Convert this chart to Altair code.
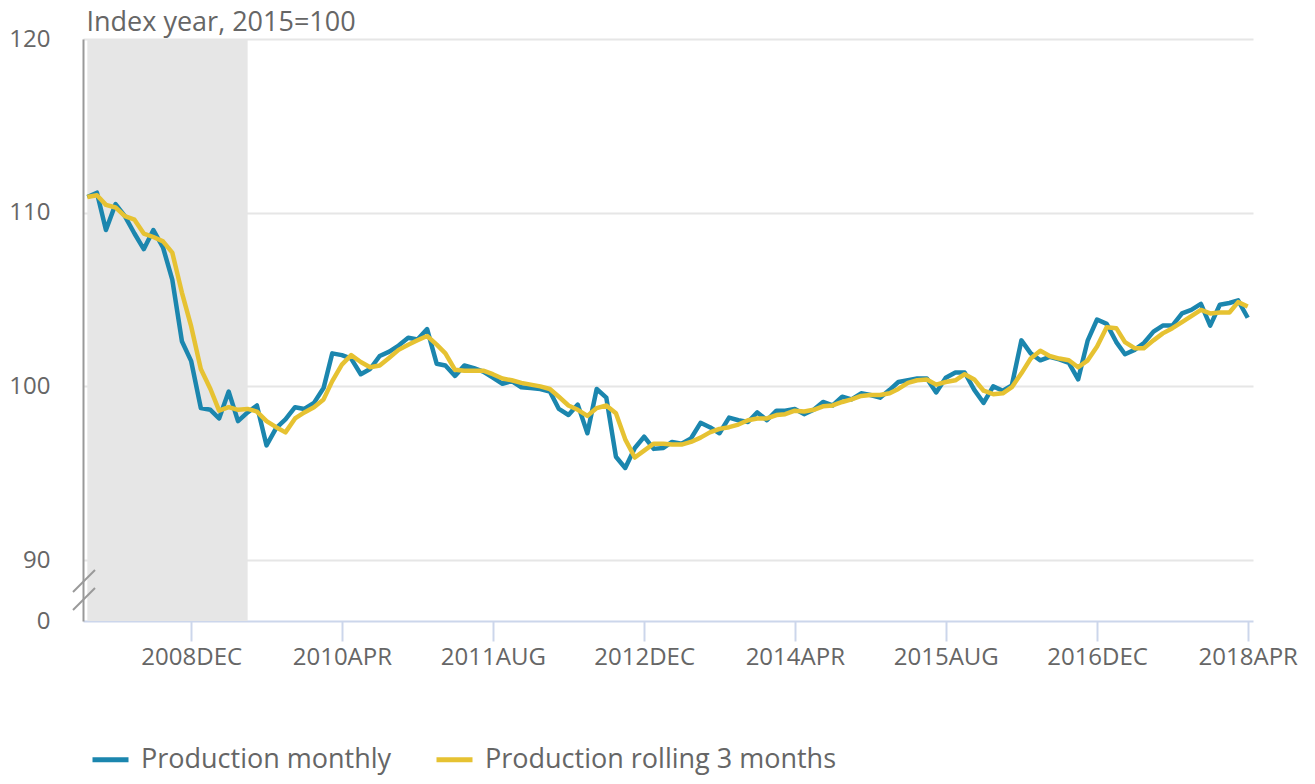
import altair as alt
import pandas as pd

# ---- data ----
months = pd.date_range("2008-01-01", "2018-04-01", freq="MS").strftime("%Y-%m-%d").tolist()

monthly = [
    110.9, 111.15, 109.0, 110.5, 109.8, 108.8, 107.9, 109.0, 108.0, 106.15, 102.6, 101.45,   # 2008
    98.75, 98.65, 98.15, 99.7, 98.0, 98.5, 98.9, 96.6, 97.6, 98.1, 98.8, 98.7,               # 2009
    99.05, 99.9, 101.9, 101.8, 101.6, 100.7, 101.0, 101.75, 102.0, 102.35, 102.8, 102.7,     # 2010
    103.3, 101.3, 101.2, 100.6, 101.2, 101.05, 100.85, 100.5, 100.15, 100.3, 99.95, 99.9,    # 2011
    99.85, 99.7, 98.7, 98.35, 98.95, 97.3, 99.85, 99.35, 95.95, 95.3, 96.45, 97.1,           # 2012
    96.4, 96.45, 96.8, 96.7, 97.0, 97.9, 97.65, 97.3, 98.2, 98.05, 97.95, 98.5,              # 2013
    98.05, 98.6, 98.6, 98.7, 98.4, 98.65, 99.1, 98.9, 99.4, 99.25, 99.6, 99.5,               # 2014
    99.35, 99.8, 100.25, 100.35, 100.45, 100.45, 99.65, 100.5, 100.8, 100.8, 99.8, 99.05,    # 2015
    100.0, 99.75, 100.05, 102.65, 101.9, 101.5, 101.7, 101.55, 101.35, 100.4, 102.65, 103.85,# 2016
    103.6, 102.55, 101.85, 102.1, 102.5, 103.15, 103.5, 103.5, 104.2, 104.4, 104.75, 103.5,  # 2017
    104.7, 104.8, 104.95, 103.95,                                                            # 2018
]

rolling = [
    110.9, 111.0, 110.45, 110.3, 109.8, 109.6, 108.8, 108.6, 108.35, 107.7, 105.4, 103.45,   # 2008
    101.0, 99.85, 98.6, 98.8, 98.65, 98.7, 98.55, 98.0, 97.65, 97.35, 98.15, 98.5,           # 2009
    98.8, 99.25, 100.3, 101.25, 101.8, 101.4, 101.1, 101.2, 101.65, 102.1, 102.4, 102.65,    # 2010
    102.9, 102.4, 101.9, 100.95, 100.9, 100.9, 100.9, 100.7, 100.45, 100.35, 100.2, 100.1,   # 2011
    100.0, 99.85, 99.4, 98.9, 98.65, 98.3, 98.75, 98.9, 98.45, 96.95, 95.9, 96.3,            # 2012
    96.7, 96.7, 96.65, 96.65, 96.8, 97.05, 97.35, 97.55, 97.65, 97.8, 98.05, 98.15,          # 2013
    98.15, 98.35, 98.4, 98.6, 98.55, 98.65, 98.85, 98.9, 99.1, 99.25, 99.45, 99.5,           # 2014
    99.5, 99.6, 99.85, 100.2, 100.35, 100.4, 100.1, 100.25, 100.35, 100.7, 100.4, 99.75,     # 2015
    99.55, 99.6, 99.95, 100.75, 101.6, 102.05, 101.75, 101.6, 101.5, 101.1, 101.5, 102.3,    # 2016
    103.4, 103.35, 102.55, 102.2, 102.2, 102.65, 103.05, 103.35, 103.7, 104.05, 104.4, 104.2,# 2017
    104.25, 104.25, 104.85, 104.6,                                                           # 2018
]

series_names = ["Production monthly", "Production rolling 3 months"]
band_start = ["2008-01-01"]
band_end = ["2009-06-01"]
y_ticks = [86.49, 90, 100, 110, 120]
x_tick_dates = [(2008, 12), (2010, 4), (2011, 8), (2012, 12), (2014, 4), (2015, 8), (2016, 12), (2018, 4)]
y_title = "Index year, 2015=100"

# ---- styling ----
FONT = "Open Sans"
TXT = "#666666"
BLUE = "#1b86ae"
YELLOW = "#e6c232"
W, H = 1170, 582

df_m = pd.DataFrame({"date": months, "value": monthly, "series": series_names[0]})
df_r = pd.DataFrame({"date": months, "value": rolling, "series": series_names[1]})
band_df = pd.DataFrame({"start": band_start, "end": band_end})

xscale = alt.Scale(
    type="utc",
    domain=[alt.DateTime(year=2007, month=12, date=18, utc=True),
            alt.DateTime(year=2018, month=4, date=18, utc=True)],
    nice=False,
)
xaxis = alt.Axis(
    values=[alt.DateTime(year=y, month=m, date=1, utc=True) for y, m in x_tick_dates],
    labelExpr="upper(utcFormat(datum.value, '%Y%b'))",
    title=None, grid=False,
    domainColor="#ccd6eb", domainWidth=2,
    tickColor="#ccd6eb", tickWidth=2, tickSize=20,
    labelFont=FONT, labelFontSize=24, labelColor=TXT, labelPadding=4,
    labelOverlap=False, labelFlush=False,
)
yscale = alt.Scale(domain=[y_ticks[0], 120], nice=False, zero=False)
yaxis = alt.Axis(
    values=y_ticks,
    labelExpr="datum.value < 88 ? '0' : format(datum.value, 'd')",
    title=y_title, titleAngle=0, titleAlign="left", titleBaseline="alphabetic",
    titleX=3, titleY=-9, titleFont=FONT, titleFontSize=27, titleFontWeight="normal",
    titleColor=TXT, titleLimit=600,
    ticks=False,
    domainColor="#999999", domainWidth=2,
    grid=True, gridWidth=2,
    gridColor={"condition": {"test": "datum.value < 88", "value": "transparent"}, "value": "#e6e6e6"},
    labelFont=FONT, labelFontSize=24, labelColor=TXT, labelPadding=33,
    labelOverlap=False,
)

color = alt.Color(
    "series:N",
    scale=alt.Scale(domain=series_names, range=[BLUE, YELLOW]),
    legend=alt.Legend(
        orient="none", legendX=7, legendY=700, direction="horizontal",
        title=None, symbolType="stroke", symbolSize=1296, symbolStrokeWidth=5,
        labelFont=FONT, labelFontSize=27, labelColor=TXT, labelOffset=10,
        labelLimit=600, columnPadding=34, padding=0,
    ),
)

band = alt.Chart(band_df).mark_rect(color="#e6e6e6").encode(
    x=alt.X("start:T", scale=xscale, axis=xaxis),
    x2="end:T",
    y=alt.value(0),
    y2=alt.value(H),
)

line_m = alt.Chart(df_m).mark_line(strokeWidth=4.5, strokeJoin="round").encode(
    x=alt.X("date:T", scale=xscale, axis=xaxis),
    y=alt.Y("value:Q", scale=yscale, axis=yaxis),
    color=color,
)
line_r = alt.Chart(df_r).mark_line(strokeWidth=4.5, strokeJoin="round").encode(
    x=alt.X("date:T", scale=xscale, axis=xaxis),
    y=alt.Y("value:Q", scale=yscale, axis=yaxis),
    color=color,
)

brk_df = pd.DataFrame({"k": [0]})
brk1 = alt.Chart(brk_df).mark_rule(color="#999999", strokeWidth=2).encode(
    x=alt.value(-10), x2=alt.value(12), y=alt.value(553), y2=alt.value(531))
brk2 = alt.Chart(brk_df).mark_rule(color="#999999", strokeWidth=2).encode(
    x=alt.value(-10), x2=alt.value(12), y=alt.value(571), y2=alt.value(549))

chart = alt.layer(band, line_m, line_r, brk1, brk2).properties(
    width=W, height=H,
    autosize=alt.AutoSizeParams(type="none"),
    padding={"left": 75, "top": 31, "right": 50, "bottom": 155},
).configure(background="white").configure_view(stroke=None)

chart.save("out.html", embed_options={"renderer": "svg", "actions": False})
